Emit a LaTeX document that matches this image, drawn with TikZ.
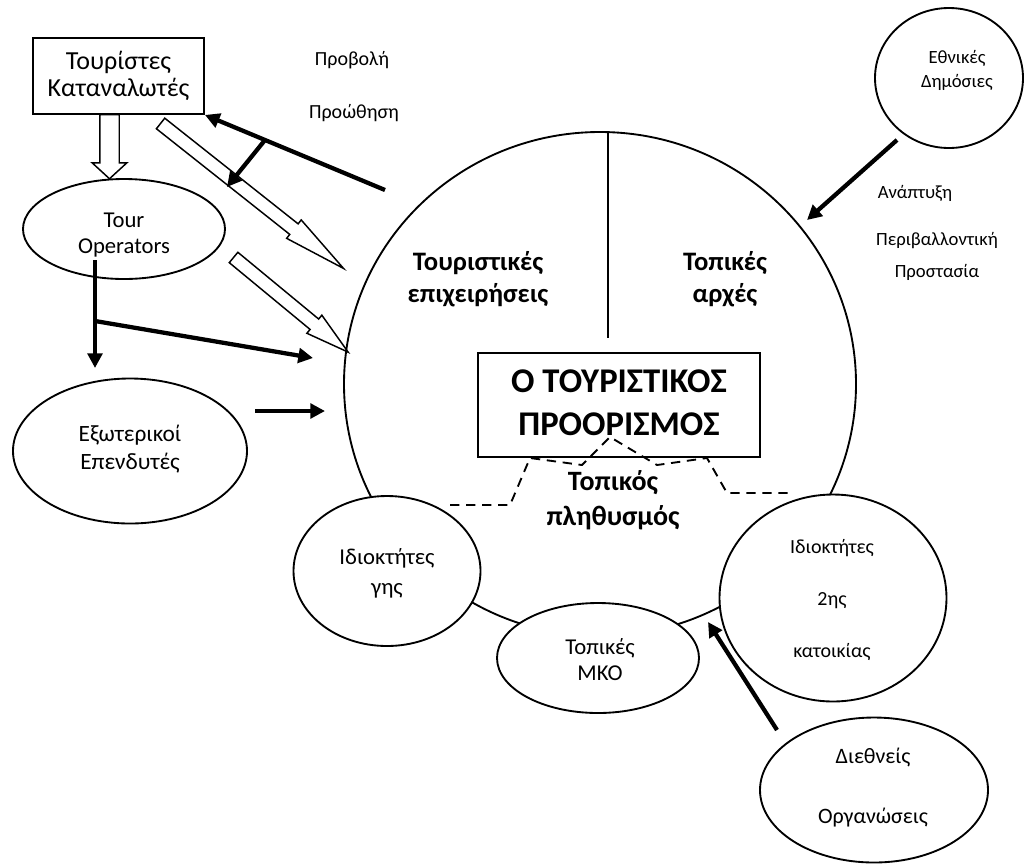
\documentclass[tikz,border=0pt]{standalone}
\usepackage{fontspec}
\setmainfont{Carlito}
\usetikzlibrary{arrows.meta, calc, shapes.geometric, shapes.arrows}

\tikzset{
  outline/.style={line width=1.4pt},
  bigarrow/.style={line width=3.2pt, -{Triangle[length=11pt, width=11pt]}},
  hollow/.style={single arrow, draw, fill=white, line width=1.1pt, inner xsep=0pt,
    inner ysep=4.5pt, single arrow head extend=3.75pt, single arrow tip angle=25,
    minimum width=0pt},
  oval/.style={ellipse, draw, outline, fill=white, align=center, inner sep=0pt},
  txt/.style 2 args={font=\fontsize{#1}{#2}\selectfont, align=center},
  heading/.style 2 args={font=\bfseries\fontsize{#1}{#2}\selectfont, align=center},
}

% hollow block arrow from #2 to #3
\newcommand{\hollowarrow}[3][]{%
  \path let \p1=($(#3)-(#2)$), \n1={veclen(\x1,\y1)}, \n2={atan2(\y1,\x1)} in
    node[hollow, #1, minimum height=\n1, rotate=\n2, anchor=tail] at (#2) {};}

\begin{document}
\begin{tikzpicture}[x=0.75pt, y=-0.75pt]
  \fill[white] (0,0) rectangle (1024,856);

  % the destination
  \node[ellipse, draw, outline, minimum width=384pt, minimum height=378pt] (dest) at (600,384) {};
  \coordinate (split) at (608,338);
  \draw[outline] (dest.north -| split) -- (split);
  \node[heading={20}{24}] (business) at (478,279) {Τουριστικές\\επιχειρήσεις};
  \node[heading={20}{24}] (authority) at (725,279) {Τοπικές\\αρχές};
  \node[draw, outline, minimum width=211.5pt, minimum height=78pt] (core) at (619,405) {};
  \node[heading={26}{32}] (coretext) at (619,403) {Ο ΤΟΥΡΙΣΤΙΚΟΣ\\ΠΡΟΟΡΙΣΜΟΣ};
  \draw[outline, dash pattern=on 7pt off 5pt]
    (450,505) -- (510,505) -- (530,458) -- (582,465) -- (610,437) -- (657,465)
    -- (707,458) -- (727,493) -- (790,493);
  \node[heading={21}{26}] (people) at (613,500) {Τοπικός\\πληθυσμός};

  % around the edge
  \node[oval, minimum width=140.25pt, minimum height=112.5pt] (landowners) at (387,571) {};
  \node[txt={17}{22.5}] at (387,573) {Ιδιοκτήτες\\γης};
  \node[oval, minimum width=151.5pt, minimum height=82.5pt] (ngo) at (598,658) {};
  \node[txt={17}{19.5}] at (600,660) {Τοπικές\\ΜΚΟ};
  \node[oval, minimum width=170.25pt, minimum height=155.25pt] (second) at (833,598) {};
  \node[txt={15}{39}] at (832,600) {Ιδιοκτήτες\\2ης\\κατοικίας};
  \node[oval, minimum width=171pt, minimum height=108.75pt] (intl) at (874,790) {};
  \node[txt={16.5}{45}] at (873,788) {Διεθνείς\\Οργανώσεις};
  \node[oval, minimum width=111pt, minimum height=105pt] (national) at (949,78) {};
  \node[txt={14}{18}] at (957,70) {Εθνικές\\Δημόσιες};

  % left side
  \node[draw, outline, fill=white, minimum width=128.25pt, minimum height=57pt, txt={19.5}{20}] (tourists) at (118.5,76) {Τουρίστες\\Καταναλωτές};
  \node[oval, minimum width=151.5pt, minimum height=75pt] (tourop) at (124,229) {};
  \node[txt={17}{20}] at (124,235) {Tour\\Operators};
  \node[oval, minimum width=175.5pt, minimum height=108.75pt] (investors) at (130,451) {};
  \node[txt={17.5}{21}] at (130,449) {Εξωτερικοί\\Επενδυτές};

  \node[txt={15}{17}] (promo) at (352,60) {Προβολή};
  \node[txt={15}{17}] (push) at (354,113) {Προώθηση};
  \node[txt={14}{17}] (growth) at (915,193) {Ανάπτυξη};
  \node[txt={14}{24}] (protect) at (937,256) {Περιβαλλοντική\\Προστασία};

  % hollow arrows
  \coordinate (h1a) at (160,123); \coordinate (h1b) at (343,268);
  \coordinate (h2a) at (233,257); \coordinate (h2b) at (348,352);
  \coordinate (h3a) at (109.5,114); \coordinate (h3b) at (109.5,178);
  \hollowarrow[single arrow tip angle=21]{h1a}{h1b}
  \hollowarrow[single arrow tip angle=30]{h2a}{h2b}
  \hollowarrow[inner ysep=6.75pt, single arrow head extend=5.6pt, single arrow tip angle=95]{h3a}{h3b}

  % solid arrows
  \coordinate (p1) at (385,190);
  \draw[bigarrow] (p1) -- (tourists.south east);
  \coordinate (p2a) at (265,140); \coordinate (p2b) at (227,187);
  \draw[bigarrow] (p2a) -- (p2b);
  \coordinate (t0) at (95,260); \coordinate (t1) at (95,321);
  \coordinate (t2) at (95,368); \coordinate (t3) at (313,358);
  \draw[line width=3.2pt] (t0) -- (t1);
  \draw[bigarrow] (t1) -- (t2);
  \draw[bigarrow] (t1) -- (t3);
  \coordinate (e1) at (255,411); \coordinate (e2) at (325,411);
  \draw[bigarrow] (e1) -- (e2);
  \coordinate (n1) at (897,140); \coordinate (n2) at (807,220);
  \draw[bigarrow] (n1) -- (n2);
  \coordinate (i1) at (777,730); \coordinate (i2) at (708,622);
  \draw[bigarrow] (i1) -- (i2);
\end{tikzpicture}
\end{document}
